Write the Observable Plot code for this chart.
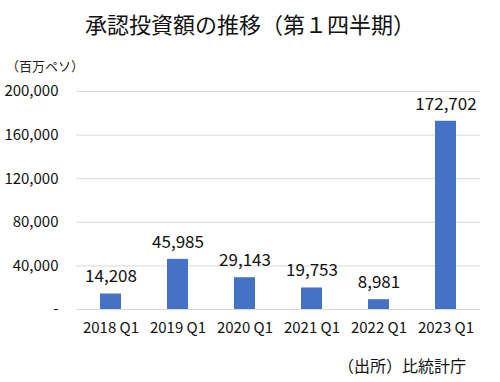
<!DOCTYPE html>
<html><head><meta charset="utf-8">
<script src="https://cdn.jsdelivr.net/npm/d3@7"></script>
<script src="https://cdn.jsdelivr.net/npm/@observablehq/plot@0.6"></script>
<style>
body{margin:0;background:#fff;font-family:"Noto Sans CJK JP","Noto Sans",sans-serif;}
#wrap{position:relative;width:500px;height:382px;overflow:hidden;}
#title{position:absolute;left:0;width:500px;top:8px;text-align:center;font-size:22px;font-weight:400;color:#111;line-height:30px;}
#unit{position:absolute;left:6px;top:57px;font-size:13px;color:#222;line-height:18px;}
#src{position:absolute;right:34px;top:353px;font-size:16px;color:#111;line-height:24px;}
#chart{position:absolute;left:0;top:0;}
</style></head><body>
<div id="wrap">
<div id="chart"></div>
<div id="title">承認投資額の推移（第１四半期）</div>
<div id="unit">（百万ペソ）</div>
<div id="src">（出所）比統計庁</div>
</div>
<script>
const categories = ["2018 Q1","2019 Q1","2020 Q1","2021 Q1","2022 Q1","2023 Q1"];
const values = [14208, 45985, 29143, 19753, 8981, 172702];
const yTicks = [0, 40000, 80000, 120000, 160000, 200000];
const data = categories.map((c,i)=>({cat:c, v:values[i]}));
const fmt = d3.format(",");
const chart = Plot.plot({
  width:500, height:382,
  marginTop:91, marginBottom:73, marginLeft:76, marginRight:20,
  style:{fontFamily:'"Noto Sans CJK JP","Noto Sans",sans-serif', color:"#111", background:"transparent"},
  x:{domain:categories, paddingInner:0.69, paddingOuter:0.345, label:null},
  y:{domain:[0,200000], label:null},
  marks:[
    Plot.gridY(yTicks,{stroke:"#d9d9d9", strokeOpacity:1}),
    Plot.barY(data,{x:"cat", y:"v", fill:"#4472C4"}),
    Plot.text(data,{x:"cat", y:"v", text:d=>fmt(d.v), dy:-17, fontSize:17, fill:"#111"}),
    Plot.axisY({ticks:yTicks, tickSize:0, tickPadding:18, tickFormat:d=>d===0?"-":fmt(d), fontSize:15, label:null}),
    Plot.axisX({tickSize:0, tickPadding:13, fontSize:15, label:null})
  ]
});
document.getElementById("chart").appendChild(chart);
</script>
</body></html>
